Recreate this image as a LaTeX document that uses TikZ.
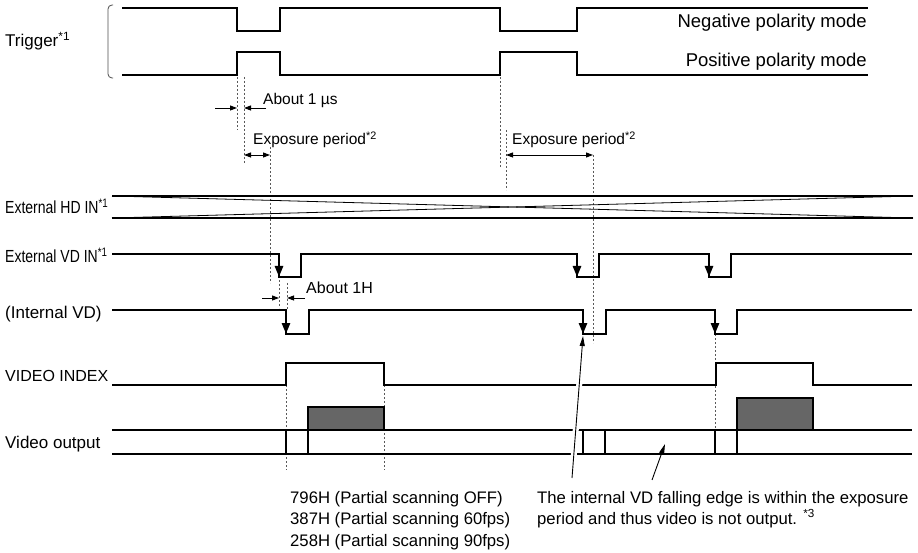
\documentclass[tikz,border=0pt]{standalone}
\usepackage{fontspec}
\setmainfont{Liberation Sans}
\newfontfamily\narrowsf[FakeStretch=0.8]{Liberation Sans}
\usetikzlibrary{arrows.meta, positioning, calc}
\tikzset{
  wave/.style     = {line width=2.6pt, line join=miter},
  xwave/.style    = {line width=0.8pt},
  divider/.style  = {line width=1.6pt},
  guide/.style    = {line width=0.9pt, draw=black!65, dash pattern=on 2pt off 2pt},
  fallarrow/.style= {line width=2.6pt, -{Triangle[length=11pt,width=8pt]}},
  dimarrow/.style = {line width=0.9pt, -{Triangle[length=7pt,width=5pt]}},
  dimboth/.style  = {line width=0.9pt, {Triangle[length=7pt,width=5pt]}-{Triangle[length=7pt,width=5pt]}},
  pointer/.style  = {line width=0.9pt, -{Triangle[length=10pt,width=5pt]}},
  halo/.style     = {line width=6pt, draw=white},
  picbox/.style   = {line width=1.6pt, fill=black!60},
  lbl/.style      = {anchor=base west, inner sep=0pt, font=\fontsize{17}{20}\selectfont},
  narrowlbl/.style= {anchor=base west, inner sep=0pt, font=\narrowsf\fontsize{17.5}{20}\selectfont},
  modelbl/.style  = {anchor=base east, inner sep=0pt, font=\fontsize{18.5}{22}\selectfont},
  dimtext/.style  = {anchor=base west, inner sep=0pt, font=\fontsize{15.5}{18}\selectfont},
  note/.style     = {anchor=base west, inner sep=0pt, font=\fontsize{16.7}{22}\selectfont},
}

\begin{document}
\begin{tikzpicture}[x=1pt, y=-1pt]
  \useasboundingbox (0,0) rectangle (918,553);

  % Guides (dotted)
  \draw[guide] (237,77)  -- (237,130);
  \draw[guide] (244,77)  -- (244,163);
  \draw[guide] (270,147) -- (270,283);
  \draw[guide] (279,280) -- (279,308);
  \draw[guide] (287,283) -- (287,310);
  \draw[guide] (500,77)  -- (500,167);
  \draw[guide] (506,130) -- (506,190);
  \draw[guide] (593,155) -- (593,343);
  \draw[guide] (715,334) -- (715,430);
  \draw[guide] (286,385) -- (286,470);
  \draw[guide] (384,385) -- (384,470);

  % Labels
  \node[lbl] (trig)  at (5,47)  {Trigger\textsuperscript{*1}};
  \node[narrowlbl] (hdin) at (5,214) {External HD IN\textsuperscript{*1}};
  \node[narrowlbl] (vdin) at (5,263) {External VD IN\textsuperscript{*1}};
  \node[lbl] (intvd) at (5,318) {(Internal VD)};
  \node[lbl, font=\fontsize{16}{20}\selectfont] (vidx) at (5,381) {VIDEO INDEX};
  \node[lbl] (vout)  at (5,448) {Video output};
  \node[modelbl] (negmode) at (867,28) {Negative polarity mode};
  \node[modelbl] (posmode) at (867,67) {Positive polarity mode};

  % Trigger
  \draw[line width=0.8pt, draw=black!70, rounded corners=4pt]
    (113,5) -- (108,5) -- (108,78) -- (113,78);
  \draw[wave] (122,8) -- (237,8) -- (237,31) -- (280,31) -- (280,8)
    -- (500,8) -- (500,31) -- (577,31) -- (577,8) -- (868,8);
  \draw[wave] (122,75) -- (237,75) -- (237,52) -- (280,52) -- (280,75)
    -- (500,75) -- (500,52) -- (577,52) -- (577,75) -- (868,75);

  % Dimensions
  \draw[dimarrow] (215,108) -- (237,108);
  \draw[dimarrow] (266,108) -- (244,108);
  \node[dimtext] (about1us) at (263,105) {About 1 µs};
  \draw[dimboth] (244,155) -- (270,155);
  \node[dimtext] (exp1) at (253,145) {Exposure period\textsuperscript{*2}};
  \draw[dimboth] (506,155) -- (593,155);
  \node[dimtext] (exp2) at (512,145) {Exposure period\textsuperscript{*2}};
  \draw[dimarrow] (262,298) -- (279,298);
  \draw[dimarrow] (305,298) -- (287,298);
  \node[dimtext, font=\fontsize{16}{18}\selectfont] (about1h) at (306,294) {About 1H};

  % External HD IN
  \draw[wave] (112,196) -- (913,196);
  \draw[wave] (112,218) -- (913,218);
  \draw[xwave] (112,196) -- (913,218);
  \draw[xwave] (112,218) -- (913,196);

  % External VD IN
  \draw[wave] (112,254) -- (279,254) -- (279,277) -- (301,277) -- (301,254)
    -- (577,254) -- (577,277) -- (599,277) -- (599,254)
    -- (709,254) -- (709,277) -- (731,277) -- (731,254) -- (912,254);
  \foreach \x in {279,577,709}
    \draw[fallarrow] (\x,254) -- (\x,277);

  % Internal VD
  \draw[wave] (112,310) -- (286,310) -- (286,334) -- (309,334) -- (309,310)
    -- (583,310) -- (583,334) -- (606,334) -- (606,310)
    -- (715,310) -- (715,334) -- (737,334) -- (737,310) -- (912,310);
  \foreach \x in {286,583,715}
    \draw[fallarrow] (\x,310) -- (\x,334);

  % VIDEO INDEX
  \draw[wave] (112,385) -- (286,385) -- (286,363) -- (384,363) -- (384,385)
    -- (716,385) -- (716,363) -- (813,363) -- (813,385) -- (912,385);

  % Video output
  \draw[picbox] (308,407) rectangle (384,430);
  \draw[picbox] (737,398) rectangle (813,430);
  \draw[wave] (112,430) -- (912,430);
  \draw[wave] (112,454) -- (912,454);
  \foreach \x in {286,308,583,605,715,737}
    \draw[divider] (\x,430) -- (\x,454);

  % Notes
  \node[note] (scanoff)    at (290,503) {796H (Partial scanning OFF)};
  \node[note] (scansixty)  at (290,524) {387H (Partial scanning 60fps)};
  \node[note] (scanninety) at (290,546) {258H (Partial scanning 90fps)};
  \node[note] (within)  at (537,503) {The internal VD falling edge is within the exposure};
  \node[note] (notout)  at (537,524) {period and thus video is not output. \textsuperscript{*3}};

  % Pointers
  \coordinate (ptrA)   at (572,478);
  \coordinate (vdmiss) at (583,336);
  \coordinate (ptrB)   at (652,480);
  \coordinate (nooutput) at (665,444);
  \draw[halo] (ptrA) -- ($(ptrA)!0.75!(vdmiss)$);
  \draw[pointer] (ptrA) -- (vdmiss);
  \draw[pointer] (ptrB) -- (nooutput);

\end{tikzpicture}
\end{document}
